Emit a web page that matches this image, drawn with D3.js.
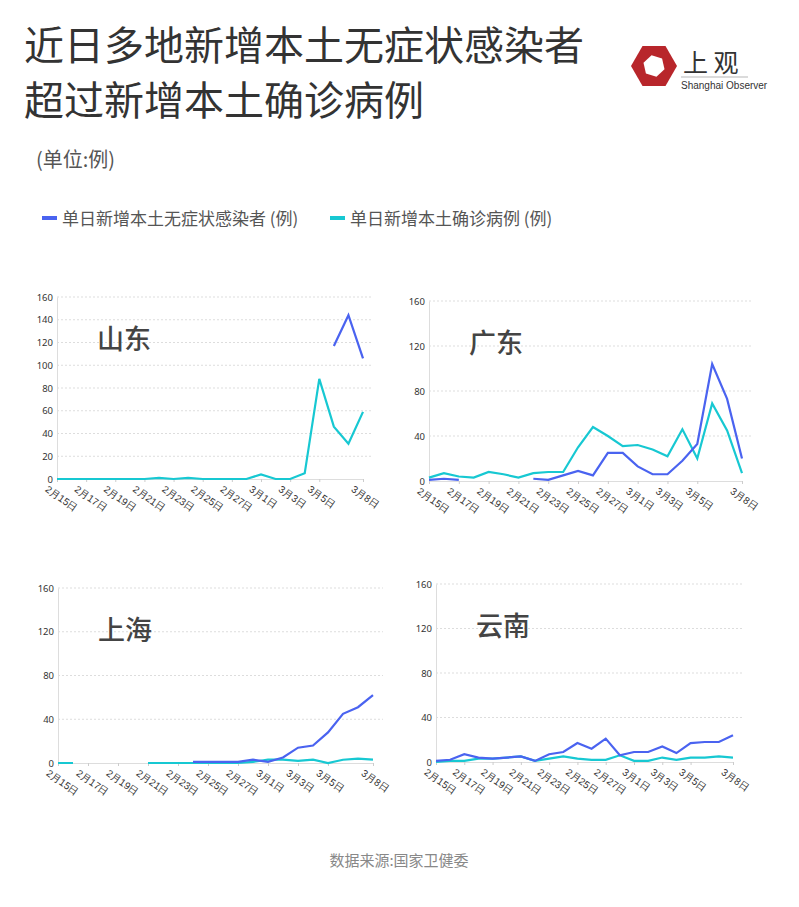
<!DOCTYPE html>
<html><head><meta charset="utf-8">
<script src="https://cdn.jsdelivr.net/npm/d3@7"></script>
<style>body{margin:0;background:#fff;}svg{font-family:"Noto Sans CJK SC","Noto Sans",sans-serif;}</style>
</head><body><svg id="c" width="799" height="907"></svg>
<script>
const dates=["2月15日","2月16日","2月17日","2月18日","2月19日","2月20日","2月21日","2月22日","2月23日","2月24日","2月25日","2月26日","2月27日","2月28日","3月1日","3月2日","3月3日","3月4日","3月5日","3月6日","3月7日","3月8日"];
const tickDates=["2月15日","2月17日","2月19日","2月21日","2月23日","2月25日","2月27日","3月1日","3月3日","3月5日","3月8日"];
const N=null;
const sdAsym=[N,N,N,N,N,N,N,N,N,N,N,N,N,N,N,N,N,N,N,117,144,106];
const sdConf=[0,0,0,0,0,0,0,1,0,1,0,0,0,0,4,0,0,5,88,46,31,59];
const gdAsym=[1,2,1,N,N,N,N,2,1,5,9,5,25,25,13,6,6,18,33,104,73,20];
const gdConf=[3,7,4,3,8,6,3,7,8,8,30,48,40,31,32,28,22,46,20,69,45,7];
const shAsym=[N,N,N,N,N,N,N,N,N,1,1,1,1,3,1,5,14,16,28,45,51,62];
const shConf=[0,0,N,N,N,N,0,0,0,0,0,0,0,1,3,3,2,3,0,3,4,3];
const ynAsym=[1,2,7,4,3,4,5,1,7,9,17,12,21,6,9,9,14,8,17,18,18,24];
const ynConf=[0,1,1,3,3,4,5,1,3,5,3,2,2,6,1,1,4,2,4,4,5,4];
const panels=[
 {name:"山东",asym:sdAsym,conf:sdConf,x0:57,x1:363,y0:479,y1:297,ticks:[0,20,40,60,80,100,120,140,160]},
 {name:"广东",asym:gdAsym,conf:gdConf,x0:429,x1:742,y0:481,y1:301,ticks:[0,40,80,120,160]},
 {name:"上海",asym:shAsym,conf:shConf,x0:58,x1:373,y0:763,y1:588,ticks:[0,40,80,120,160]},
 {name:"云南",asym:ynAsym,conf:ynConf,x0:436,x1:733,y0:762,y1:584,ticks:[0,40,80,120,160]}];
const BLUE="#4a63f0",CYAN="#17c8d2";
const svg=d3.select("#c");
const T="#333";
svg.append("text").attr("x",24).attr("y",60).attr("font-size",40).attr("fill",T).text("近日多地新增本土无症状感染者");
svg.append("text").attr("x",24).attr("y",115).attr("font-size",40).attr("fill",T).text("超过新增本土确诊病例");
// logo
const lg=svg.append("g").attr("transform","translate(654,66)");
const hex=d3.range(6).map(i=>{const a=Math.PI/3*i;return [23*Math.cos(a),23*Math.sin(a)];});
lg.append("path").attr("d","M"+hex.join("L")+"Z").attr("fill","#b8262b");
const hex2=d3.range(6).map(i=>{const a=Math.PI/3*i+0.3;return [11*Math.cos(a),11*Math.sin(a)];});
lg.append("path").attr("d","M"+hex2.join("L")+"Z").attr("fill","#fff");
svg.append("text").attr("x",683).attr("y",72).attr("font-size",25).attr("fill","#333").text("上 观");
svg.append("line").attr("x1",681).attr("x2",748).attr("y1",77).attr("y2",77).attr("stroke","#999").attr("stroke-width",0.7);
svg.append("text").attr("x",681).attr("y",89).attr("font-size",10).attr("fill","#333").attr("font-family","Liberation Sans").text("Shanghai Observer");
svg.append("text").attr("x",36).attr("y",167).attr("font-size",20).attr("fill","#555").text("(单位:例)");
// legend
[[BLUE,"单日新增本土无症状感染者 (例)",42],[CYAN,"单日新增本土确诊病例 (例)",330]].forEach(([c,t,x])=>{
 svg.append("line").attr("x1",x).attr("x2",x+15).attr("y1",218).attr("y2",218).attr("stroke",c).attr("stroke-width",4);
 svg.append("text").attr("x",x+20).attr("y",225).attr("font-size",17).attr("fill","#555").text(t);
});
panels.forEach(p=>{
 const x=d3.scalePoint().domain(dates).range([p.x0,p.x1]);
 const y=d3.scaleLinear().domain([0,160]).range([p.y0,p.y1]);
 const g=svg.append("g");
 g.selectAll(".gl").data(p.ticks.slice(1)).join("line").attr("x1",p.x0).attr("x2",p.x1+10).attr("y1",d=>y(d)).attr("y2",d=>y(d)).attr("stroke","#ddd").attr("stroke-dasharray","2,2");
 const ya=g.append("g").attr("transform",`translate(${p.x0},0)`).call(d3.axisLeft(y).tickValues(p.ticks).tickSize(0).tickPadding(4));
 ya.select(".domain").attr("stroke","#ddd");
 ya.selectAll("text").attr("font-size",9.5).attr("fill","#333").attr("font-family","Noto Sans");
 const xa=g.append("g").attr("transform",`translate(0,${p.y0})`).call(d3.axisBottom(x).tickValues(tickDates).tickSize(3));
 xa.select(".domain").attr("stroke","#ddd");
 xa.selectAll("line").attr("stroke","#ccc");
 xa.selectAll("text").attr("font-size",10).attr("fill","#333").attr("text-anchor","start").attr("transform","translate(-6,2) rotate(35)").attr("dy","0.6em");
 g.append("text").attr("x",p.x0+40).attr("y",p.y1+52).attr("font-size",27).attr("fill","#444").attr("font-weight",500).text(p.name);
 [[p.conf,CYAN],[p.asym,BLUE]].forEach(([arr,c])=>{
  const ln=d3.line().defined(d=>d!==null).x((d,i)=>x(dates[i])).y(d=>y(d));
  g.append("path").attr("d",ln(arr)).attr("fill","none").attr("stroke",c).attr("stroke-width",2.2);
 });
});
svg.append("text").attr("x",399).attr("y",866).attr("text-anchor","middle").attr("font-size",15).attr("fill","#888").text("数据来源:国家卫健委");
</script></body></html>
